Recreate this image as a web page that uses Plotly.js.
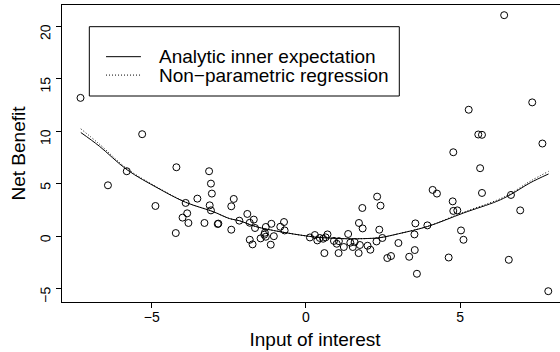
<!DOCTYPE html>
<html>
<head>
<meta charset="utf-8">
<script src="https://cdn.plot.ly/plotly-3.0.1.min.js"></script>
<style>
html, body { margin:0; padding:0; overflow:hidden; background:#fff; }
#chart { width:575px; height:352px; }
</style>
</head>
<body>
<div id="chart"></div>
<script>
// Scatter data: input of interest (x) vs net benefit (y)
var pointsX = [-7.31,-6.42,-5.81,-5.31,-4.88,-4.22,-4.20,-4.00,-3.90,-3.85,
  -3.81,-3.52,-3.29,-3.14,-3.08,-3.05,-3.12,-3.08,-2.86,-2.84,
  -2.42,-2.42,-2.34,-2.16,-1.90,-1.82,-1.69,-1.65,-1.82,-1.73,
  -1.47,-1.35,-1.30,-1.33,-1.30,-1.12,-1.14,-1.04,-0.83,-0.71,
  -0.69,0.13,0.29,0.37,0.45,0.56,0.64,0.70,0.60,0.91,
  1.00,1.07,1.06,1.23,1.37,1.44,1.52,1.58,1.71,1.75,
  1.72,1.84,1.83,2.00,2.09,2.29,2.38,2.48,2.31,2.42,
  2.64,2.76,3.00,3.35,3.53,3.60,3.55,3.52,3.94,4.11,
  4.25,4.63,4.76,4.78,4.91,5.03,5.11,5.65,5.71,6.58,
  6.65,6.95,7.86,6.43,7.34,5.28,5.59,5.71,7.67,4.78];
var pointsY = [13.2,4.87,6.21,9.74,2.90,0.32,6.59,1.79,3.19,2.20,
  1.28,3.60,1.28,6.21,5.03,4.08,2.96,2.48,1.18,1.22,
  0.64,2.87,3.57,1.50,2.14,1.30,1.60,0.80,-0.32,-0.76,
  -0.19,0.16,-0.03,0.35,0.90,1.20,-0.79,0.02,0.92,1.37,
  0.57,-0.10,0.13,-0.38,-0.15,-0.22,-0.09,0.19,-1.59,-0.43,
  -0.70,-0.45,-1.59,-1.01,0.23,-0.60,-1.01,-0.54,-1.59,-0.82,
  1.28,0.76,2.71,-0.89,-1.27,-0.48,0.64,-0.15,3.79,2.93,
  -2.06,-1.87,-0.63,-1.94,-1.30,-3.56,1.24,0.19,1.05,4.43,
  4.08,-2.01,3.34,2.43,2.48,0.57,-0.32,6.50,4.14,-2.23,
  3.95,2.48,-5.22,21.08,12.77,12.07,9.71,9.68,8.85,8.02];

// Analytic inner expectation curve
var analyticX = [-7.3,-6.7,-5.8,-4.8,-3.9,-3.0,-2.47,-2.16,-1.64,-0.84,0.13,0.7,1.32,2.0,2.4,3.0,3.95,5.11,6.19,6.62,7.27,7.87];
var analyticY = [9.9,8.6,6.35,4.6,3.25,2.35,1.69,1.5,0.95,0.45,0.0,-0.15,-0.22,-0.2,-0.12,0.25,0.95,2.23,3.34,3.95,5.1,5.95];

// Non-parametric regression curve
var nonparX = [-7.3,-6.7,-5.8,-4.8,-3.9,-3.0,-2.47,-2.16,-1.64,-0.84,0.13,0.7,1.32,2.0,2.4,3.0,3.95,5.11,6.19,6.62,7.27,7.87];
var nonparY = [10.25,8.8,6.45,4.65,3.27,2.35,1.69,1.5,0.95,0.45,0.0,-0.15,-0.22,-0.2,-0.12,0.25,0.97,2.3,3.45,4.05,5.25,6.2];

var legendLabels = ["Analytic inner expectation", "Non\u2212parametric regression"];
var xTicks = [-5, 0, 5];
var yTicks = [-5, 0, 5, 10, 15, 20];
var yTickText = ["\u22125", "0", "5", "10", "15", "20"];
var xTickText = ["\u22125", "0", "5"];

var FONT = "Liberation Sans, Arial, Helvetica, sans-serif";
var DOTTED = "1px,2px";

var traces = [
  {
    x: pointsX, y: pointsY, type: "scatter", mode: "markers",
    marker: {symbol: "circle-open", size: 7, color: "#000", line: {width: 1, color: "#000"}},
    showlegend: false, hoverinfo: "skip"
  },
  {
    x: analyticX, y: analyticY, type: "scatter", mode: "lines",
    line: {color: "#000", width: 1, shape: "spline"},
    name: legendLabels[0], showlegend: false
  },
  {
    x: nonparX, y: nonparY, type: "scatter", mode: "lines",
    line: {color: "#000", width: 1, dash: DOTTED, shape: "spline"},
    name: legendLabels[1], showlegend: false
  }
];

// Manual legend (box, line samples, labels) in paper coordinates
var legBox = {x0: 0.054, x1: 0.6666, y0: 0.6936, y1: 0.927};
var legRows = [0.826, 0.764];
var legDash = ["solid", DOTTED];
var shapes = [{
  type: "rect", xref: "paper", yref: "paper",
  x0: legBox.x0, x1: legBox.x1, y0: legBox.y0, y1: legBox.y1,
  line: {color: "#000", width: 1}, fillcolor: "#fff", layer: "above"
}];
var annotations = [];
legendLabels.forEach(function (lab, i) {
  shapes.push({
    type: "line", xref: "paper", yref: "paper",
    x0: 0.087, x1: 0.156, y0: legRows[i], y1: legRows[i],
    line: {color: "#000", width: 1, dash: legDash[i]}, layer: "above"
  });
  annotations.push({
    xref: "paper", yref: "paper", x: 0.1880, y: legRows[i],
    xanchor: "left", yanchor: "middle", showarrow: false,
    text: lab, font: {family: FONT, size: 19, color: "#000"}
  });
});

var layout = {
  width: 575, height: 352,
  margin: {l: 62, r: 7, t: 5, b: 50},
  paper_bgcolor: "#fff", plot_bgcolor: "#fff",
  font: {family: FONT, color: "#000", size: 14},
  showlegend: false,
  shapes: shapes,
  annotations: annotations,
  xaxis: {
    range: [-7.91, 8.5], autorange: false,
    tickmode: "array", tickvals: xTicks, ticktext: xTickText,
    ticks: "outside", ticklen: 5, tickwidth: 1, tickcolor: "#000",
    ticklabelstandoff: -3,
    showline: true, mirror: true, linecolor: "#000", linewidth: 1,
    showgrid: false, zeroline: false, automargin: false,
    tickfont: {family: FONT, size: 14, color: "#000"},
    title: {text: "Input of interest", font: {family: FONT, size: 19, color: "#000"}, standoff: 8}
  },
  yaxis: {
    range: [-6.25, 22.05], autorange: false,
    tickmode: "array", tickvals: yTicks, ticktext: yTickText, tickangle: -89.9,
    ticks: "outside", ticklen: 5, tickwidth: 1, tickcolor: "#000",
    ticklabelstandoff: 10,
    showline: true, mirror: true, linecolor: "#000", linewidth: 1,
    showgrid: false, zeroline: false, automargin: false,
    tickfont: {family: FONT, size: 14, color: "#000"},
    title: {text: "Net Benefit", font: {family: FONT, size: 19, color: "#000"}, standoff: 6}
  }
};

Plotly.newPlot("chart", traces, layout, {staticPlot: true, displayModeBar: false});
</script>
</body>
</html>
